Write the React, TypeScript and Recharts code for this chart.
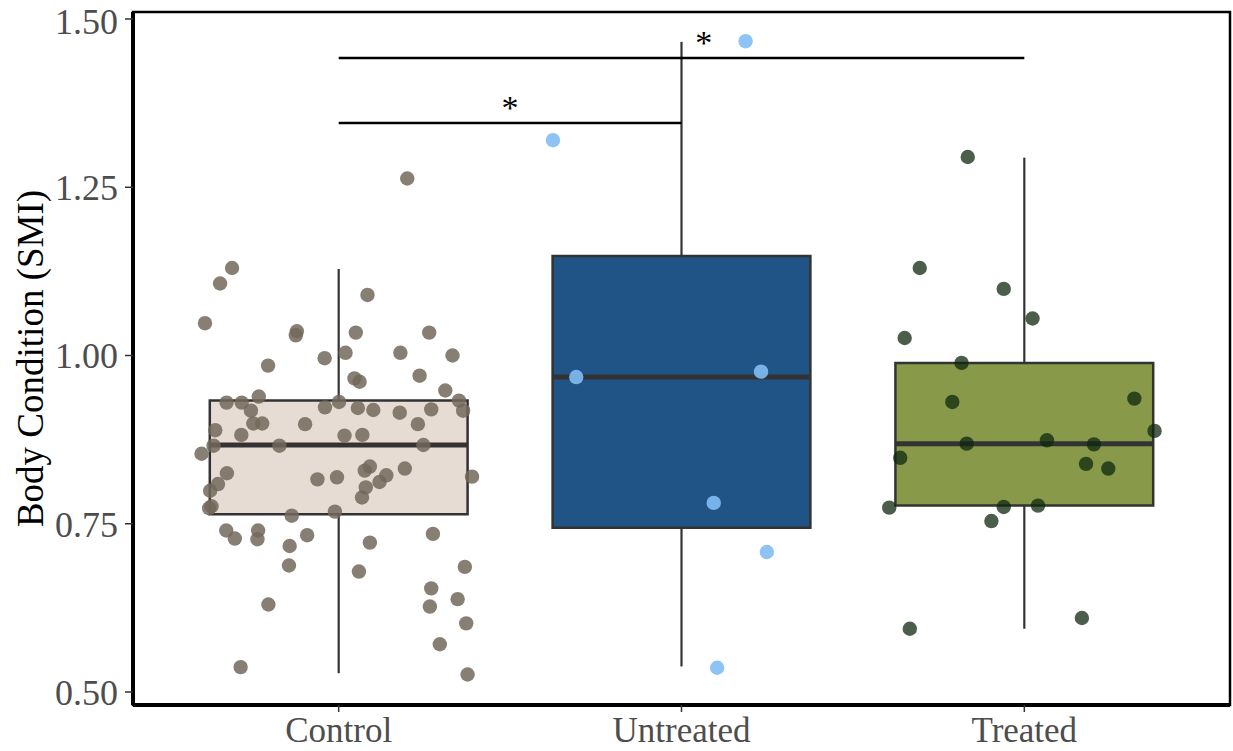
import React from 'react';
import { ComposedChart, Scatter, XAxis, YAxis, ReferenceArea, ReferenceLine } from 'recharts';

const categories = ['Control', 'Untreated', 'Treated'];
const boxFill = ['#E7DCD4', '#215486', '#889A4A'];
const lowerWhisker = [0.528, 0.538, 0.594];
const q1 = [0.764, 0.744, 0.777];
const median = [0.867, 0.968, 0.869];
const q3 = [0.933, 1.148, 0.989];
const upperWhisker = [1.1285, 1.466, 1.294];

// jittered x positions + SMI values
const controlX = [
  1.2, 0.689, 0.654, 1.084, 0.61, 0.878, 0.875, 1.05, 1.264, 1.02, 0.959, 1.18, 1.332, 0.794, 1.236, 1.046,
  1.061, 1.311, 0.767, 0.673, 0.717, 1.001, 1.351, 1.363, 0.744, 0.96, 1.056, 1.101, 1.178, 1.27, 0.751, 0.777,
  0.902, 1.231, 0.64, 0.716, 1.017, 1.069, 0.635, 0.827, 1.247, 0.6, 0.674, 0.648, 0.625, 0.629, 0.622, 0.938,
  0.995, 1.076, 1.091, 1.079, 1.068, 1.119, 1.139, 1.193, 1.389, 0.863, 0.989, 0.672, 0.697, 0.765, 0.763, 0.857,
  0.908, 0.855, 0.795, 0.714, 1.091, 1.059, 1.275, 1.368, 1.27, 1.347, 1.266, 1.372, 1.295, 1.376,
];
const controlY = [
  1.263, 1.13, 1.107, 1.09, 1.048, 1.036, 1.03, 1.034, 1.034, 1.004, 0.996, 1.004, 1.0, 0.985, 0.97, 0.966,
  0.961, 0.948, 0.939, 0.93, 0.93, 0.931, 0.933, 0.918, 0.918, 0.923, 0.922, 0.919, 0.915, 0.92, 0.899, 0.899,
  0.898, 0.898, 0.889, 0.882, 0.881, 0.882, 0.866, 0.866, 0.867, 0.854, 0.825, 0.809, 0.799, 0.776, 0.773, 0.816,
  0.819, 0.829, 0.835, 0.804, 0.789, 0.812, 0.822, 0.832, 0.82, 0.762, 0.768, 0.74, 0.728, 0.74, 0.727, 0.717,
  0.733, 0.688, 0.63, 0.537, 0.722, 0.679, 0.735, 0.686, 0.654, 0.638, 0.627, 0.602, 0.571, 0.526,
];
const untreatedX = [1.625, 2.187, 1.693, 2.232, 2.094, 2.249, 2.104];
const untreatedY = [1.32, 1.467, 0.968, 0.976, 0.781, 0.708, 0.536];
const treatedX = [
  2.835, 2.695, 2.94, 3.024, 2.651, 2.817, 2.79, 3.321, 3.38, 2.832, 3.066, 3.203, 2.638, 3.18, 3.245, 2.606,
  2.94, 3.04, 2.904, 3.168, 2.666,
];
const treatedY = [
  1.295, 1.13, 1.099, 1.055, 1.026, 0.989, 0.931, 0.936, 0.888, 0.869, 0.874, 0.868, 0.848, 0.839, 0.832, 0.774,
  0.775, 0.777, 0.754, 0.61, 0.594,
];

// significance brackets
const bracketFrom = [1, 1];
const bracketTo = [3, 2];
const bracketY = [1.442, 1.3455];
const starX = [2.065, 1.5];
const starLabel = ['*', '*'];

const yTicks = [0.5, 0.75, 1.0, 1.25, 1.5];
const yDomain = [0.4807, 1.5104];
const halfBox = 0.376;

const serif = "'Liberation Serif', 'Times New Roman', serif";

const toPoints = (xs: number[], ys: number[]) => xs.map((x, i) => ({ x, y: ys[i] }));

const controlData = toPoints(controlX, controlY);
const untreatedData = toPoints(untreatedX, untreatedY);
const treatedData = toPoints(treatedX, treatedY);
const starData = starX.map((x, i) => ({ x, y: bracketY[i], label: starLabel[i] }));

const dot = (fill: string, opacity: number) => (p: any) => (
  <circle cx={p.cx} cy={p.cy} r={7.2} fill={fill} fillOpacity={opacity} />
);

const Star = (p: any) => (
  <text x={p.cx} y={p.cy - 4} textAnchor="middle" fontSize={34} fontFamily={serif} fill="#000">
    {p.payload.label}
  </text>
);

const YTitle = (props: any) => {
  const vb = props.viewBox || { x: 0, y: 12, width: 133, height: 693 };
  const cx = vb.x + 43;
  const cy = vb.y + vb.height / 2;
  return (
    <text
      x={cx}
      y={cy}
      transform={`rotate(-90 ${cx} ${cy})`}
      textAnchor="middle"
      fontSize={37}
      fontFamily={serif}
      fill="#000"
    >
      Body Condition (SMI)
    </text>
  );
};

export default function App() {
  return (
    <div style={{ position: 'absolute', left: 0, top: 0, background: '#fff' }}>
      <ComposedChart width={1233} height={751} margin={{ top: 12, right: 3, bottom: 0, left: 0 }}>
        <XAxis
          dataKey="x"
          type="number"
          domain={[0.4, 3.6]}
          allowDataOverflow
          ticks={[1, 2, 3]}
          tickFormatter={(v: number) => categories[v - 1]}
          height={46}
          axisLine={{ stroke: '#000', strokeWidth: 4 }}
          tickLine={{ stroke: '#333', strokeWidth: 1.5 }}
          tickSize={7}
          tickMargin={5}
          tick={{ fill: '#4d4d4d', fontSize: 35, fontFamily: serif }}
        />
        <YAxis
          dataKey="y"
          type="number"
          domain={yDomain}
          allowDataOverflow
          ticks={yTicks}
          tickFormatter={(v: number) => v.toFixed(2)}
          width={133}
          axisLine={{ stroke: '#000', strokeWidth: 4 }}
          tickLine={{ stroke: '#333', strokeWidth: 1.5 }}
          tickSize={8}
          tickMargin={7}
          tick={{ fill: '#4d4d4d', fontSize: 36, fontFamily: serif }}
          label={YTitle}
        />

        {categories.map((c, i) => (
          <ReferenceLine
            key={'wu' + c}
            segment={[{ x: i + 1, y: q3[i] }, { x: i + 1, y: upperWhisker[i] }]}
            stroke="#333"
            strokeWidth={2.2}
          />
        ))}
        {categories.map((c, i) => (
          <ReferenceLine
            key={'wl' + c}
            segment={[{ x: i + 1, y: lowerWhisker[i] }, { x: i + 1, y: q1[i] }]}
            stroke="#333"
            strokeWidth={2.2}
          />
        ))}
        {categories.map((c, i) => (
          <ReferenceArea
            key={'box' + c}
            x1={i + 1 - halfBox}
            x2={i + 1 + halfBox}
            y1={q1[i]}
            y2={q3[i]}
            fill={boxFill[i]}
            fillOpacity={1}
            stroke="#333"
            strokeWidth={2.5}
          />
        ))}
        {categories.map((c, i) => (
          <ReferenceLine
            key={'med' + c}
            segment={[{ x: i + 1 - halfBox, y: median[i] }, { x: i + 1 + halfBox, y: median[i] }]}
            stroke="#333"
            strokeWidth={5}
          />
        ))}
        {bracketY.map((y, i) => (
          <ReferenceLine
            key={'br' + i}
            segment={[{ x: bracketFrom[i], y }, { x: bracketTo[i], y }]}
            stroke="#000"
            strokeWidth={2.5}
          />
        ))}

        <Scatter data={controlData} shape={dot('#72695a', 0.85)} isAnimationActive={false} />
        <Scatter data={untreatedData} shape={dot('#81bdf4', 0.9)} isAnimationActive={false} />
        <Scatter data={treatedData} shape={dot('#0f280f', 0.75)} isAnimationActive={false} />
        <Scatter data={starData} shape={Star} isAnimationActive={false} />

        <ReferenceArea
          x1={0.4}
          x2={3.6}
          y1={yDomain[0]}
          y2={yDomain[1]}
          fill="none"
          stroke="#000"
          strokeWidth={2.5}
        />
      </ComposedChart>
    </div>
  );
}
